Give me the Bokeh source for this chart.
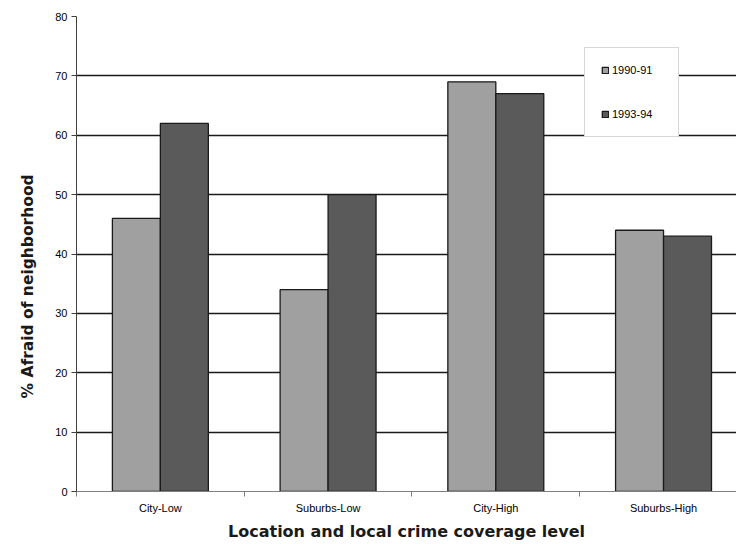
import math
from bokeh.plotting import figure
from bokeh.models import ColumnDataSource, FixedTicker, Legend, LegendItem, Range1d, Title
from bokeh.embed import file_html
from bokeh.resources import INLINE

categories = ["City-Low", "Suburbs-Low", "City-High", "Suburbs-High"]
series_names = ["1990-91", "1993-94"]
values_9091 = [46, 34, 69, 44]
values_9394 = [62, 50, 67, 43]
y_ticks = [0, 10, 20, 30, 40, 50, 60, 70, 80]

colors = ["#a0a0a0", "#5a5a5a"]
bar_w = 0.286
centers = [i + 0.5 for i in range(len(categories))]

p = figure(width=736, height=544, output_backend="svg", toolbar_location=None,
           x_range=Range1d(0, 3.935), y_range=Range1d(0, 80),
           min_border_left=75, min_border_top=16, min_border_bottom=53, min_border_right=0)
p.outline_line_color = None
p.background_fill_color = "white"
p.border_fill_color = "white"

src1 = ColumnDataSource(dict(x=[c - bar_w / 2 for c in centers], top=values_9091))
src2 = ColumnDataSource(dict(x=[c + bar_w / 2 for c in centers], top=values_9394))
r1 = p.vbar(x="x", top="top", width=bar_w, bottom=0, source=src1,
            fill_color=colors[0], line_color="#1a1a1a", line_width=1.3)
r2 = p.vbar(x="x", top="top", width=bar_w, bottom=0, source=src2,
            fill_color=colors[1], line_color="#1a1a1a", line_width=1.3)

# grid
p.xgrid.grid_line_color = None
p.ygrid.ticker = FixedTicker(ticks=y_ticks)
p.ygrid.grid_line_color = "#1a1a1a"
p.ygrid.grid_line_width = 1.4
p.ygrid.level = "underlay"

# y axis
p.yaxis.ticker = FixedTicker(ticks=y_ticks)
p.yaxis.axis_line_color = "#404040"
p.yaxis.major_tick_line_color = "#404040"
p.yaxis.major_tick_out = 5
p.yaxis.major_tick_in = 0
p.yaxis.minor_tick_line_color = None
p.yaxis.major_label_text_font = "Liberation Sans"
p.yaxis.major_label_text_font_size = "11px"
p.yaxis.major_label_text_color = "black"
p.yaxis.major_label_standoff = 4

ytitle = Title(text="% Afraid of neighborhood", align="left", offset=93,
               standoff=32, text_font="DejaVu Sans", text_font_style="bold",
               text_font_size="15.5px", text_color="#1a1a1a")
p.add_layout(ytitle, "left")

# x axis
p.xaxis.ticker = FixedTicker(ticks=centers, minor_ticks=[0, 1, 2, 3])
p.xaxis.major_label_overrides = {c: n for c, n in zip(centers, categories)}
p.xaxis.axis_line_color = "#808080"
p.xaxis.major_tick_line_color = None
p.xaxis.major_tick_out = 0
p.xaxis.minor_tick_line_color = "#808080"
p.xaxis.minor_tick_out = 5
p.xaxis.minor_tick_in = 0
p.xaxis.major_label_text_font = "Liberation Sans"
p.xaxis.major_label_text_font_size = "11px"
p.xaxis.major_label_text_color = "black"
p.xaxis.major_label_standoff = 5
p.xaxis.axis_label = "Location and local crime coverage level"
p.xaxis.axis_label_text_font = "DejaVu Sans"
p.xaxis.axis_label_text_font_style = "bold"
p.xaxis.axis_label_text_font_size = "16px"
p.xaxis.axis_label_text_color = "#1a1a1a"
p.xaxis.axis_label_standoff = 5

legend = Legend(items=[LegendItem(label=series_names[0], renderers=[r1]),
                       LegendItem(label=series_names[1], renderers=[r2])],
                location=(508, 354), orientation="vertical")
legend.border_line_color = "#b0b0b0"
legend.border_line_width = 1
legend.background_fill_color = "white"
legend.background_fill_alpha = 1
legend.padding = 16
legend.margin = 0
legend.spacing = 32
legend.glyph_width = 8
legend.glyph_height = 8
legend.label_height = 8
legend.label_width = 50
legend.label_standoff = 3
legend.label_text_font = "Liberation Sans"
legend.label_text_font_size = "11px"
legend.label_text_color = "black"
p.add_layout(legend, "center")

open("out.html", "w").write(file_html(p, INLINE))
